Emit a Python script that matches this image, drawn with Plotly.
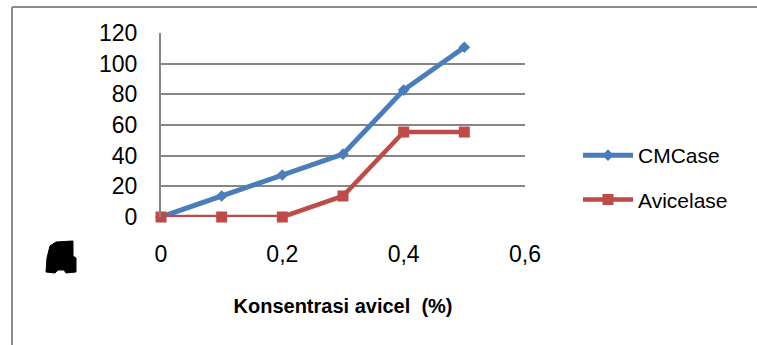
import plotly.graph_objects as go

# Avicel concentration (%) and enzyme activity
konsentrasi = [0, 0.1, 0.2, 0.3, 0.4, 0.5]
cmcase = [0, 13.7, 27.4, 41.0, 82.8, 110.7]
avicelase = [0, 0, 0, 13.7, 55.4, 55.4]

x_ticks = [0, 0.2, 0.4, 0.6]
x_tick_labels = ["0", "0,2", "0,4", "0,6"]
y_ticks = [0, 20, 40, 60, 80, 100, 120]

W, H = 757, 345
L, R, T, B = 161, 525, 33, 217  # plot area in pixels


def px(x):
    return (x - L) / (R - L)


def py(y):
    return (B - y) / (B - T)


BLUE = "#4a7ebb"
RED = "#be4b48"
GRID = "#868686"
FONT = "Liberation Sans"

fig = go.Figure()
fig.add_trace(go.Scatter(
    x=konsentrasi, y=cmcase, name="CMCase", mode="lines+markers",
    line=dict(color=BLUE, width=5),
    marker=dict(symbol="diamond", size=9, color=BLUE),
    cliponaxis=False, legendgroup="a",
))
fig.add_trace(go.Scatter(
    x=konsentrasi, y=avicelase, name="Avicelase", mode="lines+markers",
    line=dict(color=RED, width=4.5),
    marker=dict(symbol="square", size=11, color=RED),
    cliponaxis=False, legendgroup="b",
))

shapes = [
    # outer frame (left and top edges)
    dict(type="line", xref="paper", yref="paper", x0=px(12), x1=px(12),
         y0=py(7), y1=py(H + 5), line=dict(color="#8c8c8c", width=2)),
    dict(type="line", xref="paper", yref="paper", x0=px(12), x1=px(W + 5),
         y0=py(7), y1=py(7), line=dict(color="#8c8c8c", width=2)),
]

# small dark glyph left of the horizontal axis labels
glyph = [(47, 258), (50, 246), (56, 242), (73, 241), (73, 256), (76, 258),
         (76, 272), (66, 273), (64, 270), (58, 270), (55, 273), (46, 272)]
path = "M " + " L ".join(f"{px(a):.5f},{py(b):.5f}" for a, b in glyph) + " Z"
shapes.append(dict(type="path", xref="paper", yref="paper", path=path,
                   fillcolor="black", line=dict(color="black", width=1)))

fig.update_layout(
    width=W, height=H,
    margin=dict(l=L, r=W - R, t=T, b=H - B, pad=0),
    paper_bgcolor="white", plot_bgcolor="white",
    separators=",.",
    font=dict(family=FONT, size=23, color="black"),
    showlegend=True,
    legend=dict(x=px(578), y=py(135), xanchor="left", yanchor="top",
                font=dict(family=FONT, size=21, color="black"),
                itemwidth=50,
                tracegroupgap=14, bgcolor="rgba(0,0,0,0)"),
    xaxis=dict(range=[0, 0.6], tickvals=x_ticks, ticktext=x_tick_labels,
               showgrid=False, zeroline=False, showline=False,
               ticks="outside", ticklen=16, tickcolor="rgba(0,0,0,0)",
               tickfont=dict(family=FONT, size=23),
               title=dict(text="<b>Konsentrasi avicel  (%)</b>",
                          font=dict(family=FONT, size=20), standoff=33)),
    yaxis=dict(range=[0, 120], tickvals=y_ticks, showgrid=True,
               gridcolor=GRID, gridwidth=2, zeroline=False,
               showline=True, linecolor=GRID, linewidth=2,
               ticks="outside", ticklen=17, tickcolor="rgba(0,0,0,0)",
               tickfont=dict(family=FONT, size=23)),
    shapes=shapes,
)

fig.write_html("out.html")
